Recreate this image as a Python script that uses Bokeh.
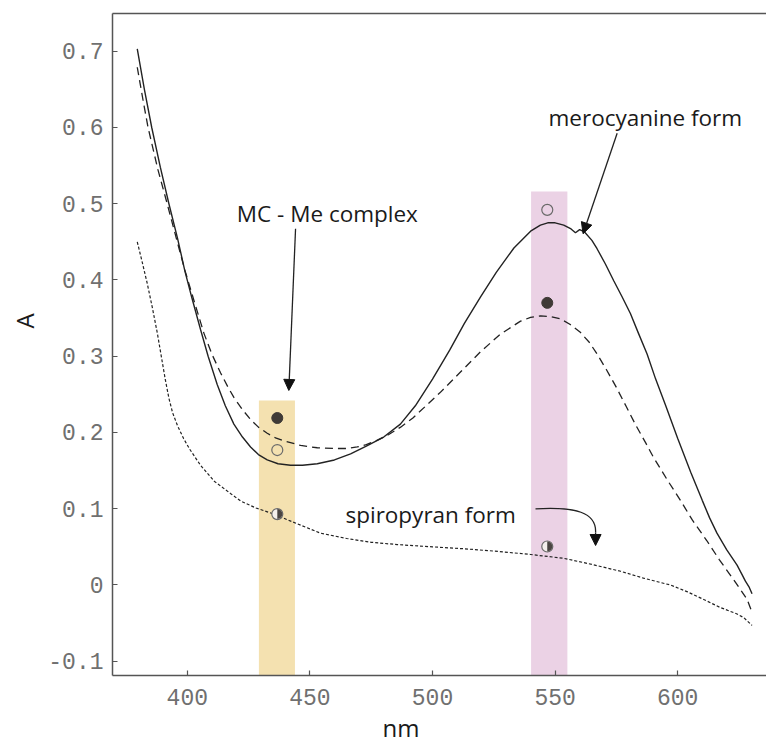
import numpy as np
from bokeh.plotting import figure
from bokeh.models import Range1d, LinearAxis, FixedTicker, Label, Arrow, NormalHead, Title
from bokeh.embed import file_html
from bokeh.resources import INLINE

# ---- data ----
merocyanine_nm = [379.6, 382.5, 385.5, 389, 392.5, 396, 399, 402, 405.4, 408.5, 412.2, 415.5, 419,
                  422.5, 425.8, 429, 432.6, 437, 442.1, 447, 453, 460, 466.6, 473, 480.1, 486.9,
                  493, 500, 507, 513, 519.6, 526, 533.2, 540, 544, 547, 550, 553.5, 556.5, 558.3,
                  560, 562, 565, 567.1, 570.5, 573.9, 577.3, 580.7, 584, 587.5, 591, 595, 600,
                  605.3, 610, 613, 616, 620, 624.2, 626.5, 627.6, 629, 630.3]
merocyanine_A = [0.703, 0.650, 0.600, 0.548, 0.500, 0.455, 0.412, 0.375, 0.335, 0.300, 0.263, 0.235,
                 0.211, 0.194, 0.181, 0.171, 0.164, 0.159, 0.157, 0.157, 0.159, 0.164, 0.172, 0.182,
                 0.194, 0.211, 0.235, 0.270, 0.308, 0.343, 0.378, 0.410, 0.442, 0.464, 0.472, 0.475,
                 0.475, 0.472, 0.467, 0.462, 0.466, 0.463, 0.452, 0.441, 0.421, 0.399, 0.378, 0.356,
                 0.330, 0.303, 0.270, 0.236, 0.192, 0.148, 0.111, 0.088, 0.068, 0.046, 0.026, 0.012,
                 0.005, -0.002, -0.0115]

complex_nm = [379.6, 382, 384, 388, 391.8, 395.5, 399, 403, 406.8, 410, 413.6, 416.5, 419, 422.5,
              425.8, 429, 432.6, 436, 439.4, 446.2, 453, 459.8, 465, 469.3, 473, 477.5, 482, 487,
              492, 497, 503, 511, 519.6, 527.7, 535.9, 540, 544.1, 548, 552.2, 556, 560.4, 564,
              567.1, 571, 575, 579, 583, 587, 590, 595.7, 601.1, 606, 611.9, 617, 622.8, 626,
              628.3, 630.3]
complex_A = [0.679, 0.635, 0.600, 0.545, 0.500, 0.455, 0.413, 0.370, 0.330, 0.303, 0.278, 0.260,
             0.246, 0.230, 0.217, 0.207, 0.199, 0.193, 0.189, 0.183, 0.180, 0.179, 0.179, 0.181,
             0.184, 0.190, 0.197, 0.207, 0.219, 0.234, 0.252, 0.278, 0.306, 0.329, 0.346, 0.351,
             0.353, 0.352, 0.349, 0.342, 0.331, 0.318, 0.303, 0.282, 0.259, 0.234, 0.209, 0.186,
             0.168, 0.138, 0.111, 0.085, 0.058, 0.033, 0.007, -0.008, -0.019, -0.036]

spiropyran_nm = [379.6, 381.5, 383.7, 385.8, 387.8, 389.5, 391, 392.5, 394, 396, 398.5, 401, 405.4,
                 411, 417.6, 421.8, 428, 435.3, 445, 454.3, 465, 475, 485.6, 500, 512.8, 527, 540,
                 553.5, 565, 576.7, 586, 597, 604, 610.6, 617, 624.2, 627, 630.3]
spiropyran_A = [0.450, 0.425, 0.395, 0.363, 0.330, 0.298, 0.270, 0.245, 0.226, 0.209, 0.192, 0.178,
                0.157, 0.136, 0.120, 0.110, 0.101, 0.093, 0.080, 0.068, 0.061, 0.056, 0.053, 0.050,
                0.0475, 0.044, 0.040, 0.035, 0.027, 0.018, 0.009, 0.0, -0.009, -0.019, -0.029,
                -0.038, -0.043, -0.053]

band_left = [429.2, 540.2]
band_right = [443.9, 555.0]
band_top = [0.242, 0.516]
band_colors = ["#f4e1b0", "#ebd2e5"]

marker_nm = [436.7, 546.8]
filled_A = [0.219, 0.370]
open_A = [0.177, 0.492]
half_A = [0.093, 0.0505]

y_ticks = [-0.1, 0.0, 0.1, 0.2, 0.3, 0.4, 0.5, 0.6, 0.7]
y_tick_labels = ["-0.1", "0", "0.1", "0.2", "0.3", "0.4", "0.5", "0.6", "0.7"]
x_ticks = [400, 450, 500, 550, 600]

X_MIN, X_MAX = 369.5, 636.2
Y_MIN, Y_MAX = -0.1187, 0.7495

p = figure(width=766, height=746, x_range=Range1d(X_MIN, X_MAX), y_range=Range1d(Y_MIN, Y_MAX),
           output_backend="svg", toolbar_location=None,
           min_border_left=112, min_border_right=0, min_border_top=13, min_border_bottom=71)
p.outline_line_color = None
p.xgrid.visible = False
p.ygrid.visible = False
p.background_fill_color = "white"
p.border_fill_color = "white"

AX = "#555555"
for ax in (p.xaxis[0], p.yaxis[0]):
    ax.axis_line_color = AX
    ax.axis_line_width = 1.5
    ax.major_tick_line_color = AX
    ax.major_tick_line_width = 1.2
    ax.major_tick_in = 5
    ax.major_tick_out = 0
    ax.minor_tick_line_color = None
    ax.major_label_text_font = "Liberation Mono"
    ax.major_label_text_font_size = "23px"
    ax.major_label_text_color = "#707070"

p.xaxis.ticker = FixedTicker(ticks=x_ticks)
p.xaxis.major_label_standoff = 13
p.yaxis.ticker = FixedTicker(ticks=y_ticks)
p.yaxis.major_label_overrides = {t: s for t, s in zip(y_ticks, y_tick_labels)}
p.yaxis.major_label_standoff = 9

top = LinearAxis(axis_line_color=AX, axis_line_width=1.5, ticker=FixedTicker(ticks=[]),
                 major_tick_line_color=None, minor_tick_line_color=None)
p.add_layout(top, "above")

TF = "Open Sans"
TC = "#1a1a1a"
p.add_layout(Title(text="nm", align="left", offset=270, standoff=3, text_font=TF,
                   text_font_size="24px", text_font_style="normal", text_color=TC), "below")
p.add_layout(Title(text="A", align="left", offset=347, standoff=10, text_font=TF,
                   text_font_size="24px", text_font_style="normal", text_color=TC), "left")

# bands
p.quad(left=band_left, right=band_right, bottom=[Y_MIN - 0.1] * 2, top=band_top,
       fill_color=band_colors, line_color=None)

# curves
LC = "#222222"
p.line(merocyanine_nm, merocyanine_A, line_color=LC, line_width=1.4)
p.line(complex_nm, complex_A, line_color=LC, line_width=1.3, line_dash="8 5")
p.line(spiropyran_nm, spiropyran_A, line_color=LC, line_width=1.2, line_dash="3 2")

# markers
p.scatter(marker_nm, filled_A, size=11, fill_color="#3f3a36", line_color="#3f3a36")
p.scatter(marker_nm, open_A, size=11, fill_color=None, line_color="#6a6a6a", line_width=1.2)
p.scatter(marker_nm, half_A, size=11, fill_color="#f4f0ec", line_color="#6a6a6a", line_width=1.2)
p.wedge(x=marker_nm, y=half_A, radius=5.0, radius_units="screen",
        start_angle=-np.pi / 2, end_angle=np.pi / 2, fill_color="#4a4542", line_color=None)

# annotations
for txt, x, y in [("merocyanine form", 547.3, 0.6135),
                  ("MC - Me complex", 420.2, 0.4876),
                  ("spiropyran form", 464.5, 0.0925)]:
    p.add_layout(Label(x=x, y=y, text=txt, text_font=TF, text_font_size="22.5px",
                       text_color=TC, text_align="left", text_baseline="alphabetic"))

head = dict(size=11, fill_color="#111111", line_color="#111111")
p.add_layout(Arrow(x_start=444.15, y_start=0.4671, x_end=441.4, y_end=0.2551,
                   line_color=LC, line_width=1.3, end=NormalHead(**head)))
p.add_layout(Arrow(x_start=575.3, y_start=0.5925, x_end=561.4, y_end=0.4606,
                   line_color=LC, line_width=1.3, end=NormalHead(**head)))
p.bezier(x0=[542.0], y0=[0.0999], x1=[566.5], y1=[0.0689],
         cx0=[558.3], cy0=[0.1030], cx1=[566.9], cy1=[0.0951],
         line_color=LC, line_width=1.3)
p.add_layout(Arrow(x_start=566.5, y_start=0.0689, x_end=566.5, y_end=0.0518,
                   line_color=LC, line_width=1.3, end=NormalHead(**head)))

open("out.html", "w").write(file_html(p, INLINE))
